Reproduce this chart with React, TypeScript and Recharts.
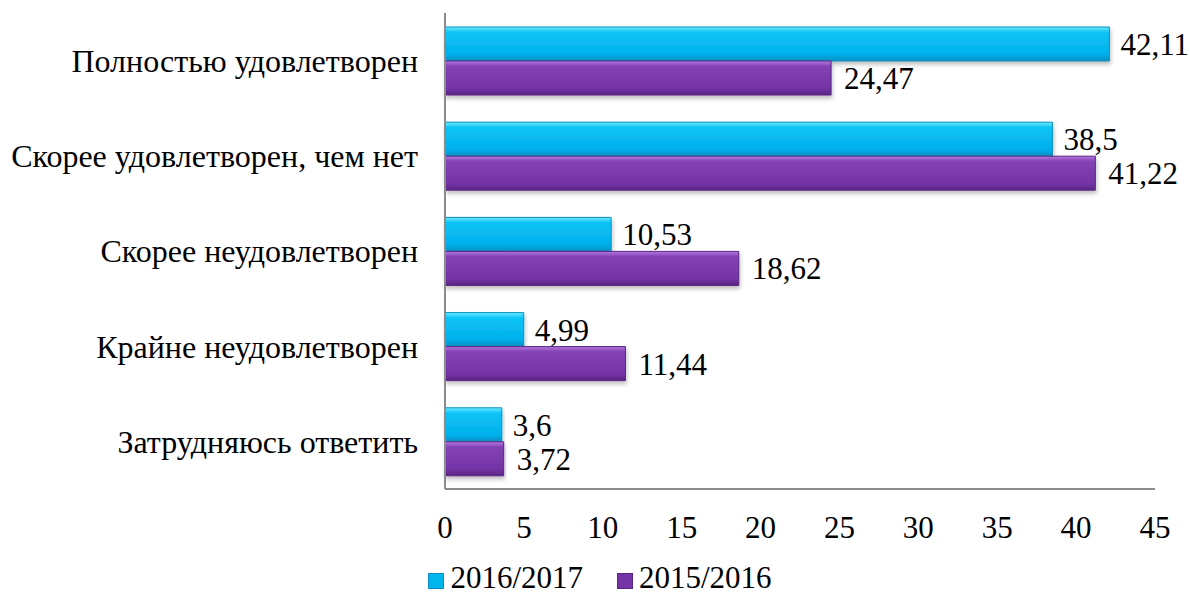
import React from 'react';
import { BarChart, Bar, XAxis, YAxis, LabelList } from 'recharts';

const categories = [
  'Полностью удовлетворен',
  'Скорее удовлетворен, чем нет',
  'Скорее неудовлетворен',
  'Крайне неудовлетворен',
  'Затрудняюсь ответить',
];
const values2016 = [42.11, 38.5, 10.53, 4.99, 3.6];
const values2015 = [24.47, 41.22, 18.62, 11.44, 3.72];
const xTicks = [0, 5, 10, 15, 20, 25, 30, 35, 40, 45];
const seriesNames = ['2016/2017', '2015/2016'];

const data = categories.map((name, i) => ({
  name,
  s2016: values2016[i],
  s2015: values2015[i],
}));

const FONT = '"Liberation Serif", "Times New Roman", serif';
const FS = 31;
const fmt = (v: number) => String(v).replace('.', ',');

const legendItems = [
  { label: seriesNames[0], color: '#00B4EE', edge: '#0A8FC0' },
  { label: seriesNames[1], color: '#7535A6', edge: '#5A2684' },
];

export default function App() {
  return (
    <div style={{ position: 'fixed', left: 0, top: 0, width: 1190, height: 598, background: '#fff' }}>
      <BarChart
        width={1190}
        height={598}
        data={data}
        layout="vertical"
        margin={{ top: 13, right: 35, bottom: 79, left: 0 }}
        barCategoryGap={14}
        barGap={0}
      >
        <defs>
          <linearGradient id="gCyan" x1="0" y1="0" x2="0" y2="1">
            <stop offset="0" stopColor="#6FEBFF" />
            <stop offset="0.15" stopColor="#10C4F6" />
            <stop offset="0.8" stopColor="#00B0EC" />
            <stop offset="1" stopColor="#0A8FC0" />
          </linearGradient>
          <linearGradient id="gPurple" x1="0" y1="0" x2="0" y2="1">
            <stop offset="0" stopColor="#B57AE0" />
            <stop offset="0.15" stopColor="#8443B5" />
            <stop offset="0.8" stopColor="#7433A4" />
            <stop offset="1" stopColor="#5A2684" />
          </linearGradient>
          <filter id="shadow" x="-5%" y="-20%" width="110%" height="160%">
            <feDropShadow dx="1" dy="3" stdDeviation="2" floodColor="#000" floodOpacity="0.25" />
          </filter>
        </defs>
        <XAxis
          type="number"
          domain={[0, 45]}
          ticks={xTicks}
          height={30}
          tickLine={false}
          tickSize={0}
          tickMargin={27}
          axisLine={{ stroke: '#8C8C8C', strokeWidth: 2 }}
          tick={{ fill: '#000', fontSize: FS, fontFamily: FONT }}
        />
        <YAxis
          type="category"
          dataKey="name"
          width={445}
          tickLine={false}
          tickSize={0}
          tickMargin={27}
          axisLine={{ stroke: '#8C8C8C', strokeWidth: 2 }}
          tick={{ fill: '#000', fontSize: 32, fontFamily: FONT }}
        />
        <Bar dataKey="s2016" name={seriesNames[0]} fill="url(#gCyan)" stroke="#0A90C0" strokeWidth={1} isAnimationActive={false} filter="url(#shadow)">
          <LabelList dataKey="s2016" position="right" offset={11} formatter={fmt} fill="#000" fontSize={FS} fontFamily={FONT} />
        </Bar>
        <Bar dataKey="s2015" name={seriesNames[1]} fill="url(#gPurple)" stroke="#5A2684" strokeWidth={1} isAnimationActive={false} filter="url(#shadow)">
          <LabelList dataKey="s2015" position="right" offset={13} formatter={fmt} fill="#000" fontSize={FS} fontFamily={FONT} />
        </Bar>
      </BarChart>
      <div
        style={{
          position: 'absolute',
          top: 565,
          left: 0,
          width: 1190,
          display: 'flex',
          justifyContent: 'center',
          gap: 34,
          fontFamily: FONT,
          fontSize: FS,
          color: '#000',
          lineHeight: '26px',
          paddingLeft: 10,
          boxSizing: 'border-box',
        }}
      >
        {legendItems.map((it) => (
          <div key={it.label} style={{ display: 'flex', alignItems: 'center' }}>
            <span
              style={{
                display: 'inline-block',
                width: 14,
                height: 14,
                background: it.color,
                border: `1px solid ${it.edge}`,
                marginRight: 6,
                marginTop: 6,
              }}
            />
            <span>{it.label}</span>
          </div>
        ))}
      </div>
    </div>
  );
}
